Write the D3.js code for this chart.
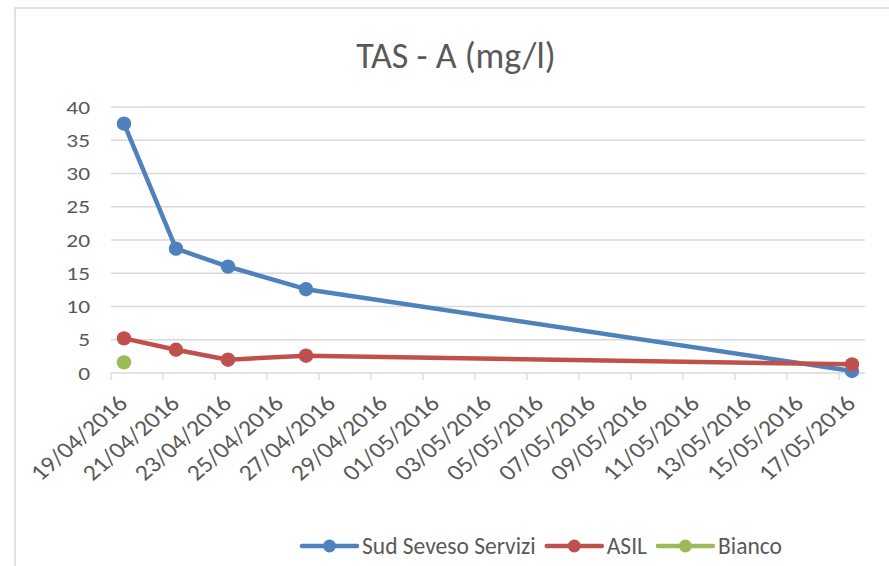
<!DOCTYPE html>
<html>
<head>
<meta charset="utf-8">
<script src="https://cdn.jsdelivr.net/npm/d3@7"></script>
<style>
  html, body { margin: 0; padding: 0; background: #fff; }
  svg { display: block; }
  text { font-family: Calibri, Carlito, Lato, sans-serif; fill: #595959; }
</style>
</head>
<body>
<svg id="chart" width="889" height="566"></svg>
<script>
// data
const dates = ['19/04/2016', '21/04/2016', '23/04/2016', '26/04/2016', '17/05/2016'];
const sud = [37.5, 18.7, 16.0, 12.6, 0.3];
const asil = [5.2, 3.5, 2.0, 2.6, 1.3];
const bianco = [1.6, null, null, null, null];
const tickLabels = ['19/04/2016', '21/04/2016', '23/04/2016', '25/04/2016', '27/04/2016',
  '29/04/2016', '01/05/2016', '03/05/2016', '05/05/2016', '07/05/2016', '09/05/2016',
  '11/05/2016', '13/05/2016', '15/05/2016', '17/05/2016'];
const yTicks = [0, 5, 10, 15, 20, 25, 30, 35, 40];

const series = [
  {name: 'Sud Seveso Servizi', values: sud, color: '#4f81bd'},
  {name: 'ASIL', values: asil, color: '#c0504d'},
  {name: 'Bianco', values: bianco, color: '#9bbb59'}
];

const parse = d3.timeParse('%d/%m/%Y');
const svg = d3.select('#chart');

// chart border (runs off the right / bottom edge)
svg.append('rect').attr('x', 15).attr('y', 8).attr('width', 940).attr('height', 620)
  .attr('fill', '#fff').attr('stroke', '#d9d9d9').attr('stroke-width', 1.5);

svg.append('text').attr('x', 456).attr('y', 68).attr('text-anchor', 'middle')
  .style('font-size', '36px').text('TAS - A (mg/l)');

const first = parse(tickLabels[0]);
const last = d3.timeDay.offset(parse(tickLabels[tickLabels.length - 1]), 1);
const x = d3.scaleTime().domain([first, last]).range([111, 865]);
const y = d3.scaleLinear().domain([0, 40]).range([373, 107]);
const mid = d => x(d3.timeHour.offset(parse(d), 12));

// gridlines
svg.append('g').selectAll('line').data(yTicks).join('line')
  .attr('x1', 111).attr('x2', 865)
  .attr('y1', d => y(d)).attr('y2', d => y(d))
  .attr('stroke', '#d9d9d9').attr('stroke-width', 1.3);

// y labels
svg.append('g').selectAll('text').data(yTicks).join('text')
  .attr('text-anchor', 'end')
  .attr('transform', d => 'translate(90,' + (y(d) + 6.5) + ') scale(1.3,1)')
  .style('font-size', '18px')
  .text(d => d);

// x ticks + labels
svg.append('g').selectAll('line').data(tickLabels).join('line')
  .attr('x1', d => x(parse(d))).attr('x2', d => x(parse(d)))
  .attr('y1', y(0)).attr('y2', y(0) + 7)
  .attr('stroke', '#d9d9d9').attr('stroke-width', 1.3);

svg.append('g').selectAll('text').data(tickLabels).join('text')
  .attr('text-anchor', 'end')
  .attr('transform', d => 'translate(' + (mid(d) + 5) + ',' + (y(0) + 32) + ') scale(1.15,1) rotate(-45)')
  .style('font-size', '22.5px')
  .text(d => d);

// series
const line = d3.line()
  .defined(d => d.v != null)
  .x(d => mid(d.date)).y(d => y(d.v));

series.forEach(s => {
  const pts = dates.map((d, i) => ({date: d, v: s.values[i]}));
  svg.append('path').datum(pts)
    .attr('d', line)
    .attr('fill', 'none').attr('stroke', s.color)
    .attr('stroke-width', 4.5).attr('stroke-linejoin', 'round').attr('stroke-linecap', 'round');
  svg.append('g').selectAll('circle').data(pts.filter(p => p.v != null)).join('circle')
    .attr('cx', p => mid(p.date)).attr('cy', p => y(p.v)).attr('r', 7.2)
    .attr('fill', s.color);
});

// legend
let lx = 302;
const ly = 546;
series.forEach(s => {
  const g = svg.append('g');
  g.append('line').attr('x1', lx).attr('x2', lx + 55).attr('y1', ly).attr('y2', ly)
    .attr('stroke', s.color).attr('stroke-width', 4.5).attr('stroke-linecap', 'round');
  g.append('circle').attr('cx', lx + 27.5).attr('cy', ly).attr('r', 6.5).attr('fill', s.color);
  const t = g.append('text').attr('x', lx + 60).attr('y', ly + 8)
    .style('font-size', '23.5px').text(s.name);
  lx += 60 + t.node().getComputedTextLength() + 11;
});
</script>
</body>
</html>
